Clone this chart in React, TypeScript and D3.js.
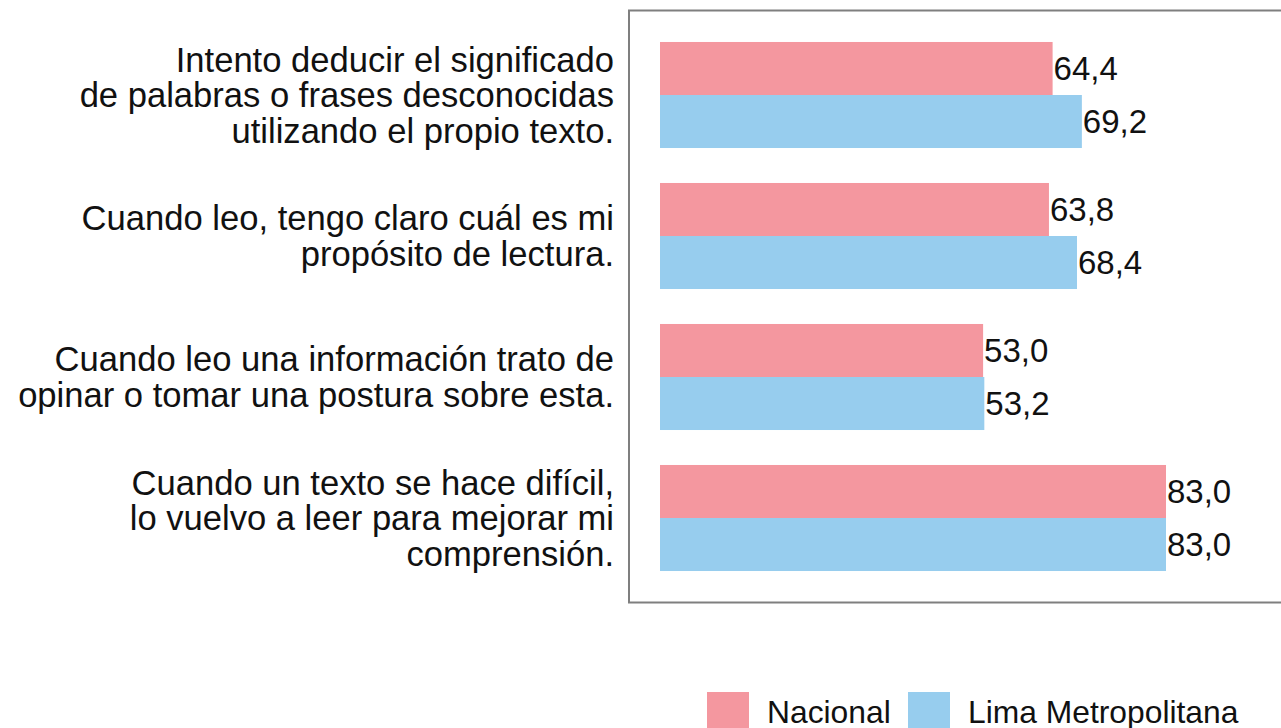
import React from "react";
import * as d3 from "d3";

const categories: string[][] = [
  ["Intento deducir el significado", "de palabras o frases desconocidas", "utilizando el propio texto."],
  ["Cuando leo, tengo claro cuál es mi", "propósito de lectura."],
  ["Cuando leo una información trato de", "opinar o tomar una postura sobre esta."],
  ["Cuando un texto se hace difícil,", "lo vuelvo a leer para mejorar mi", "comprensión."],
];
const seriesNames = ["Nacional", "Lima Metropolitana"];
const nacional = [64.4, 63.8, 53.0, 83.0];
const lima = [69.2, 68.4, 53.2, 83.0];
const colors = ["#F4979F", "#97CDEE"];

const W = 1281;
const H = 728;
const FONT = "'Liberation Sans', Arial, Helvetica, sans-serif";

export default function App() {
  const ids = categories.map((_, i) => String(i));
  const y = d3.scaleBand<string>().domain(ids).range([24.5, 588.5]).paddingInner(0.248).paddingOuter(0.124);
  const ySub = d3.scaleBand<string>().domain(seriesNames).range([0, y.bandwidth()]);
  const x = d3.scaleLinear().domain([0, 83]).range([660, 1166]);
  const series = [nacional, lima];
  const fmt = (v: number) => d3.format(".1f")(v).replace(".", ",");
  const lineH = 35.5;

  return (
    <div style={{ position: "absolute", left: 0, top: 0, width: W, height: H, background: "#fff" }}>
      <svg width={W} height={H} style={{ display: "block" }} fontFamily={FONT}>
        <rect x={0} y={0} width={W} height={H} fill="#fff" />
        <rect x={629} y={10.5} width={700} height={592} fill="none" stroke="#7f7f7f" strokeWidth={2} />
        {ids.map((id, i) => {
          const g0 = y(id)!;
          const center = g0 + y.bandwidth() / 2;
          const lines = categories[i];
          const startBase = center - ((lines.length - 1) * lineH) / 2 + 12;
          return (
            <g key={id}>
              {series.map((vals, s) => {
                const by = g0 + ySub(seriesNames[s])!;
                const bh = ySub.bandwidth();
                return (
                  <g key={s}>
                    <rect x={x(0)} y={by} width={x(vals[i]) - x(0)} height={bh} fill={colors[s]} />
                    <text x={x(vals[i]) + 1} y={by + bh / 2 + 11.5} fontSize={33} fill="#111">
                      {fmt(vals[i])}
                    </text>
                  </g>
                );
              })}
              {lines.map((ln, k) => (
                <text key={k} x={614} y={startBase + k * lineH} textAnchor="end" fontSize={34.6} fill="#111">
                  {ln}
                </text>
              ))}
            </g>
          );
        })}
        <g>
          <rect x={707} y={692} width={42} height={42} fill={colors[0]} />
          <text x={767} y={723} fontSize={31.8} fill="#111">{seriesNames[0]}</text>
          <rect x={908} y={692} width={42} height={42} fill={colors[1]} />
          <text x={968} y={723} fontSize={31.8} fill="#111">{seriesNames[1]}</text>
        </g>
      </svg>
    </div>
  );
}
